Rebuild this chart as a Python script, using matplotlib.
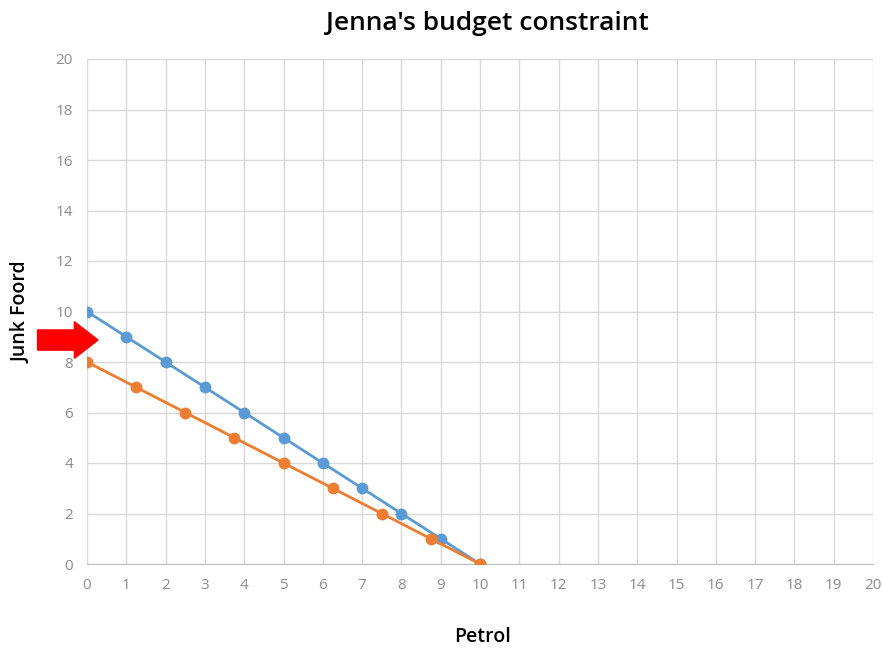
import matplotlib
matplotlib.use("Agg")
import matplotlib.pyplot as plt
from matplotlib.patches import FancyArrow

# data
petrol_blue = [0, 1, 2, 3, 4, 5, 6, 7, 8, 9, 10]
food_blue = [10, 9, 8, 7, 6, 5, 4, 3, 2, 1, 0]
petrol_orange = [0, 1.25, 2.5, 3.75, 5, 6.25, 7.5, 8.75, 10]
food_orange = [8, 7, 6, 5, 4, 3, 2, 1, 0]
x_ticks = list(range(0, 21))
y_ticks = list(range(0, 21, 2))

plt.rcParams['font.family'] = ['Open Sans', 'DejaVu Sans']

fig = plt.figure(figsize=(8.83, 6.48), dpi=100)
ax = fig.add_axes([87 / 883, 84 / 648, 786 / 883, 505 / 648])

ax.plot(petrol_blue, food_blue, color='#5B9BD5', lw=2, marker='o', ms=7.5, zorder=3)
ax.plot(petrol_orange, food_orange, color='#ED7D31', lw=2, marker='o', ms=7.5, zorder=3)

ax.set_xlim(0, 20)
ax.set_ylim(0, 20)
ax.set_xticks(x_ticks)
ax.set_yticks(y_ticks)
ax.grid(True, color='#d9d9d9', lw=1)
ax.set_axisbelow(True)
for s in ['top', 'right', 'left']:
    ax.spines[s].set_visible(False)
ax.spines['bottom'].set_color('#bfbfbf')
ax.tick_params(length=0, colors='#8c8c8c', labelsize=11, pad=10)

# red arrow pointing at the shift
arrow = FancyArrow(-1.26, 8.87, 1.54, 0, width=0.8, head_width=1.45,
                   head_length=0.6, length_includes_head=True,
                   color='#ff0000', clip_on=False, zorder=4)
ax.add_patch(arrow)

fig.text(487 / 883, 1 - 23 / 648, "Jenna's budget constraint", ha='center', va='center',
         fontsize=19, fontweight='semibold')
fig.text(483 / 883, 1 - 637 / 648, "Petrol", ha='center', va='center',
         fontsize=14, fontweight='semibold')
fig.text(22 / 883, 1 - 312 / 648, "Junk Foord", ha='center', va='center',
         fontsize=14, fontweight='semibold', rotation=90)

fig.savefig('out.png', dpi=100)
